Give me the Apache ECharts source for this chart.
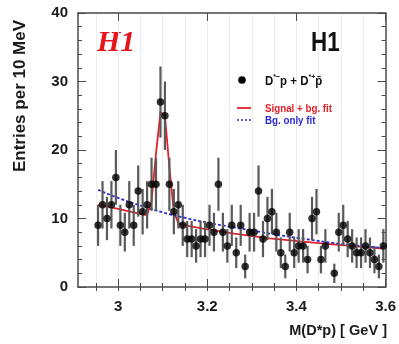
<!DOCTYPE html>
<html>
<head>
<meta charset="utf-8">
<script src="https://cdn.jsdelivr.net/npm/echarts@6/dist/echarts.min.js"></script>
<style>
  html, body { margin: 0; padding: 0; background: #fff; }
  #chart { width: 399px; height: 344px; }
</style>
</head>
<body>
<div id="chart"></div>
<script>
// bin centres of M(D*p), 10 MeV bins
const massBins = [
  2.955, 2.965, 2.975, 2.985, 2.995, 3.005, 3.015, 3.025, 3.035, 3.045,
  3.055, 3.065, 3.075, 3.085, 3.095, 3.105, 3.115, 3.125, 3.135, 3.145,
  3.155, 3.165, 3.175, 3.185, 3.195, 3.205, 3.215, 3.225, 3.235, 3.245,
  3.255, 3.265, 3.275, 3.285, 3.295, 3.305, 3.315, 3.325, 3.335, 3.345,
  3.355, 3.365, 3.375, 3.385, 3.395, 3.405, 3.415, 3.425, 3.435, 3.445,
  3.455, 3.465, 3.475, 3.485, 3.495, 3.505, 3.515, 3.525, 3.535, 3.545,
  3.555, 3.565, 3.575, 3.585, 3.595
];
// entries per bin (empty bin -> null)
const entries = [
  9, 12, 10, 12, 16, 9, 8, 12, 9, 14,
  11, 12, 15, 15, 27, 25, 15, 11, 12, 9,
  7, 7, 6, 7, 7, 9, 8, 15, 8, 6,
  9, 5, 9, 3, 8, 8, 14, 7, 10, 11,
  8, 5, 3, 8, 5, 6, 6, 4, 10, 11,
  4, 6, null, 2, 8, 9, 7, 6, 5, 5,
  6, 5, 4, 3, 6
];

// signal + background fit
const sigFitMass = [2.955, 3.0, 3.055, 3.065, 3.075, 3.085, 3.095, 3.105, 3.115, 3.125, 3.135, 3.16, 3.2, 3.26, 3.34, 3.42, 3.5, 3.595];
const sigFitVal  = [12.0, 11.4, 10.6, 10.5, 12.5, 19.5, 25.5, 25.0, 17.5, 11.0, 9.3, 8.9, 8.4, 7.8, 7.1, 6.6, 6.1, 5.6];

// background only fit
const bgFitMass = [2.955, 3.0, 3.05, 3.1, 3.15, 3.2, 3.26, 3.34, 3.42, 3.5, 3.595];
const bgFitVal  = [14.2, 13.0, 11.9, 10.9, 10.1, 9.4, 8.7, 7.8, 7.0, 6.3, 5.7];

const xMajorTicks = [3.0, 3.2, 3.4, 3.6];
const xMinorTicks = [2.95, 3.0, 3.05, 3.1, 3.15, 3.2, 3.25, 3.3, 3.35, 3.4, 3.45, 3.5, 3.55];

const RED = '#e5202a';
const BLUE = '#2b2bd6';
const FRAME = '#4a4a4a';
const sans = "'Liberation Sans', Arial, Helvetica, sans-serif";

const points = massBins.map((m, i) => [m, entries[i]]).filter(p => p[1] !== null);

const chart = echarts.init(document.getElementById('chart'));

function xAxisDef(position, ticks, tickLen, opts) {
  return Object.assign({
    type: 'value',
    position: position,
    min: 2.91,
    max: 3.6,
    axisLine: { show: true, onZero: false, lineStyle: { color: FRAME, width: 1.5 } },
    axisTick: { show: true, inside: true, length: tickLen, customValues: ticks, lineStyle: { color: FRAME, width: 1 } },
    axisLabel: { show: false },
    splitLine: { show: false }
  }, opts || {});
}

function yAxisDef(position, showLabel) {
  return {
    type: 'value',
    position: position,
    min: 0,
    max: 40,
    interval: 10,
    axisLine: { show: true, onZero: false, lineStyle: { color: FRAME, width: 1.5 } },
    axisTick: { show: true, inside: true, length: 8, lineStyle: { color: FRAME, width: 1 } },
    minorTick: { show: true, splitNumber: 5, length: 4, lineStyle: { color: FRAME, width: 1 } },
    axisLabel: {
      show: showLabel,
      margin: 10,
      color: '#1a1a1a',
      fontFamily: sans,
      fontWeight: 'bold',
      fontSize: 15
    },
    splitLine: { show: false }
  };
}

// narrow bold text like the original Helvetica Narrow labels
function narrowText(x, y, text, size, color, align, squeeze) {
  return {
    type: 'text',
    x: x,
    y: y,
    scaleX: squeeze,
    style: {
      text: text,
      fill: color,
      font: 'bold ' + size + 'px ' + sans,
      textAlign: align,
      textVerticalAlign: 'middle'
    },
    z: 10
  };
}

const option = {
  animation: false,
  backgroundColor: '#fff',
  grid: { left: 78, right: 10, top: 13, bottom: 57, containLabel: false },
  xAxis: [
    xAxisDef('bottom', xMajorTicks, 8, {
      axisLabel: {
        show: true,
        customValues: xMajorTicks,
        margin: 12,
        color: '#1a1a1a',
        fontFamily: sans,
        fontWeight: 'bold',
        fontSize: 15
      }
    }),
    xAxisDef('bottom', xMinorTicks, 4, {
      axisLine: { show: false },
      splitLine: { show: true, lineStyle: { color: '#ededed', width: 1 } }
    }),
    xAxisDef('top', xMajorTicks, 8),
    xAxisDef('top', xMinorTicks, 4, { axisLine: { show: false } })
  ],
  yAxis: [yAxisDef('left', true), yAxisDef('right', false)],
  series: [
    {
      name: 'Signal + bg. fit',
      type: 'line',
      xAxisIndex: 0,
      yAxisIndex: 0,
      data: sigFitMass.map((m, i) => [m, sigFitVal[i]]),
      symbol: 'none',
      lineStyle: { color: RED, width: 1.8 },
      itemStyle: { color: RED },
      z: 3
    },
    {
      name: 'Bg. only fit',
      type: 'line',
      xAxisIndex: 0,
      yAxisIndex: 0,
      data: bgFitMass.map((m, i) => [m, bgFitVal[i]]),
      symbol: 'none',
      smooth: true,
      lineStyle: { color: BLUE, width: 1.8, type: [3, 2] },
      itemStyle: { color: BLUE },
      z: 4
    },
    {
      name: 'errors',
      type: 'custom',
      xAxisIndex: 0,
      yAxisIndex: 0,
      data: points,
      renderItem: (params, api) => {
        const m = api.value(0);
        const n = api.value(1);
        const err = Math.sqrt(n);
        const top = api.coord([m, n + err]);
        const bot = api.coord([m, n - err]);
        return {
          type: 'line',
          shape: { x1: top[0], y1: top[1], x2: bot[0], y2: bot[1] },
          style: { stroke: '#5a5a5a', lineWidth: 2.2 }
        };
      },
      z: 5
    },
    {
      name: 'data',
      type: 'scatter',
      xAxisIndex: 0,
      yAxisIndex: 0,
      data: points,
      symbol: 'circle',
      symbolSize: 7.5,
      itemStyle: { color: '#000' },
      z: 6
    }
  ],
  graphic: [
    {
      type: 'text',
      left: 97,
      top: 28,
      style: { text: 'H1', fill: '#e8141c', font: "italic bold 30px 'Liberation Serif', 'Times New Roman', serif" }
    },
    narrowText(311, 43, 'H1', 28, '#111', 'left', 0.8),
    {
      type: 'text',
      x: 20,
      y: 96,
      rotation: Math.PI / 2,
      style: {
        text: 'Entries per 10 MeV',
        fill: '#1a1a1a',
        font: 'bold 17px ' + sans,
        textAlign: 'center',
        textVerticalAlign: 'middle'
      }
    },
    narrowText(387, 331, 'M(D*p) [ GeV ]', 15, '#1a1a1a', 'right', 0.97),

    // legend
    { type: 'circle', shape: { cx: 242, cy: 80, r: 3.8 }, style: { fill: '#000' }, z: 10 },
    {
      type: 'text',
      x: 265,
      y: 81,
      scaleX: 0.88,
      style: {
        text: '{n|D}{s|*\u2212}{n|p + D}{s|*+}{n|p\u0304}',
        textVerticalAlign: 'middle',
        rich: {
          n: { font: 'bold 13px ' + sans, fill: '#111', lineHeight: 16 },
          s: { font: 'bold 8px ' + sans, fill: '#111', lineHeight: 16, verticalAlign: 'top' }
        }
      },
      z: 10
    },
    { type: 'line', shape: { x1: 237, y1: 108, x2: 251, y2: 108 }, style: { stroke: RED, lineWidth: 1.8 }, z: 10 },
    narrowText(265, 109, 'Signal + bg. fit', 11.5, RED, 'left', 0.85),
    { type: 'line', shape: { x1: 237, y1: 120, x2: 251, y2: 120 }, style: { stroke: BLUE, lineWidth: 1.5, lineDash: [2, 2] }, z: 10 },
    narrowText(265, 120.5, 'Bg. only fit', 11.5, BLUE, 'left', 0.85)
  ]
};

chart.setOption(option);
</script>
</body>
</html>
